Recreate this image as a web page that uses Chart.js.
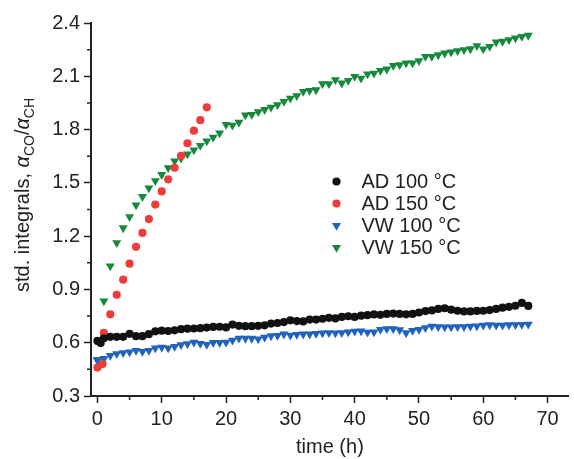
<!DOCTYPE html>
<html>
<head>
<meta charset="utf-8">
<script src="https://cdn.jsdelivr.net/npm/chart.js@4.4.1/dist/chart.umd.min.js"></script>
<style>
  html, body { margin: 0; padding: 0; background: #fff; }
  #wrap { width: 574px; height: 459px; position: relative; }
</style>
</head>
<body>
<div id="wrap"><canvas id="chart"></canvas></div>
<script>
const hoursVW = [0,1,2,3,4,5,6,7,8,9,10,11,12,13,14,15,16,17,18,19,20,21,22,23,24,25,26,27,28,29,30,31,32,33,
  34,35,36,37,38,39,40,41,42,43,44,45,46,47,48,49,50,51,52,53,54,55,56,57,58,59,60,61,62,63,64,65,66,67];
const hoursAD100 = [0,0.5,1,2,3,4,5,6,7,8,9,10,11,12,13,14,15,16,17,18,19,20,21,22,23,24,25,26,27,28,29,30,31,32,33,
  34,35,36,37,38,39,40,41,42,43,44,45,46,47,48,49,50,51,52,53,54,55,56,57,58,59,60,61,62,63,64,65,66,67];
const hoursAD150 = [0,0.8,1,2,3,4,5,6,7,8,9,10,11,12,13,14,15,16,17];

const ad100 = [0.61,0.598,0.625,0.633,0.633,0.633,0.65,0.637,0.637,0.648,0.664,0.668,0.666,0.67,0.676,0.679,
  0.68,0.682,0.685,0.689,0.69,0.686,0.702,0.695,0.693,0.693,0.695,0.698,0.708,0.711,0.716,0.726,0.722,0.72,
  0.73,0.73,0.735,0.74,0.737,0.745,0.749,0.745,0.752,0.755,0.759,0.757,0.762,0.764,0.762,0.76,0.762,0.77,
  0.778,0.782,0.79,0.794,0.786,0.78,0.776,0.776,0.779,0.78,0.784,0.79,0.797,0.802,0.808,0.824,0.807];
const ad150 = [0.46,0.48,0.655,0.76,0.87,0.955,1.045,1.14,1.218,1.296,1.378,1.452,1.52,1.585,1.652,1.723,
  1.794,1.853,1.925];
const vw100 = [0.50,0.51,0.528,0.537,0.543,0.547,0.556,0.55,0.556,0.57,0.574,0.57,0.578,0.588,0.593,0.602,
  0.595,0.59,0.6,0.6,0.602,0.614,0.625,0.624,0.624,0.62,0.63,0.638,0.64,0.648,0.642,0.646,0.648,0.648,0.652,
  0.654,0.656,0.654,0.656,0.66,0.664,0.666,0.658,0.66,0.674,0.678,0.678,0.672,0.655,0.668,0.674,0.684,0.692,
  0.69,0.688,0.688,0.689,0.69,0.692,0.694,0.698,0.7,0.698,0.698,0.7,0.701,0.702,0.704];
const vw150 = [0.505,0.834,1.031,1.162,1.246,1.309,1.375,1.422,1.471,1.512,1.546,1.585,1.623,1.638,1.662,
  1.685,1.71,1.735,1.756,1.78,1.828,1.824,1.84,1.882,1.884,1.9,1.912,1.925,1.939,1.958,1.976,1.99,2.014,
  2.02,2.023,2.057,2.057,2.08,2.061,2.076,2.098,2.089,2.113,2.117,2.132,2.14,2.16,2.164,2.174,2.174,2.187,
  2.211,2.211,2.22,2.23,2.236,2.243,2.249,2.254,2.271,2.253,2.267,2.292,2.296,2.305,2.315,2.324,2.33];

const seriesLabels = ['AD 100 °C', 'AD 150 °C', 'VW 100 °C', 'VW 150 °C'];
const xTicks = [0, 10, 20, 30, 40, 50, 60, 70];
const xMinorTicks = [5, 15, 25, 35, 45, 55, 65];
const yTicks = [0.3, 0.6, 0.9, 1.2, 1.5, 1.8, 2.1, 2.4];
const yMinorTicks = [0.45, 0.75, 1.05, 1.35, 1.65, 1.95, 2.25];

const FONT = "'Liberation Sans', Arial, sans-serif";
const INK = '#222';

function toPoints(xs, ys) {
    return ys.map((v, i) => ({ x: xs[i], y: v }));
}

// kleine Zwischenstriche an beiden Achsen
const minorTicks = {
    id: 'minorTicks',
    afterDraw(chart) {
        const { ctx, scales: { x, y } } = chart;
        ctx.save();
        ctx.strokeStyle = INK;
        ctx.lineWidth = 1.5;
        ctx.beginPath();
        xMinorTicks.forEach(v => {
            const px = x.getPixelForValue(v);
            ctx.moveTo(px, y.bottom);
            ctx.lineTo(px, y.bottom + 4);
        });
        yMinorTicks.forEach(v => {
            const py = y.getPixelForValue(v);
            ctx.moveTo(x.left, py);
            ctx.lineTo(x.left - 4, py);
        });
        ctx.stroke();
        ctx.restore();
    }
};

// y-Achsentitel mit tiefgestellten Indizes
const yTitle = {
    id: 'yTitle',
    afterDraw(chart) {
        const ctx = chart.ctx;
        const parts = [
            ['std. integrals, ', '20px ' + FONT, 0],
            ['α', 'italic 20px ' + FONT, 0],
            ['CO', '14px ' + FONT, 5],
            ['/', '20px ' + FONT, 0],
            ['α', 'italic 20px ' + FONT, 0],
            ['CH', '14px ' + FONT, 5]
        ];
        ctx.save();
        ctx.translate(28.5, 292);
        ctx.rotate(-Math.PI / 2);
        ctx.fillStyle = INK;
        ctx.textBaseline = 'alphabetic';
        let pos = 0;
        parts.forEach(([txt, font, dy]) => {
            ctx.font = font;
            ctx.fillText(txt, pos, dy);
            pos += ctx.measureText(txt).width;
        });
        ctx.restore();
    }
};

// Legende innerhalb der Zeichenfläche
const innerLegend = {
    id: 'innerLegend',
    afterDraw(chart) {
        const ctx = chart.ctx;
        ctx.save();
        ctx.font = '20px ' + FONT;
        ctx.textBaseline = 'middle';
        chart.data.datasets.forEach((ds, i) => {
            const yy = 181.5 + i * 22;
            ctx.fillStyle = ds.pointBackgroundColor;
            ctx.strokeStyle = ds.pointBackgroundColor;
            Chart.helpers.drawPoint(ctx, {
                pointStyle: ds.pointStyle,
                rotation: ds.pointRotation || 0,
                radius: ds.pointRadius,
                borderWidth: 0
            }, 336.5, yy);
            ctx.fillStyle = INK;
            ctx.fillText(seriesLabels[i], 361.5, yy + 1);
        });
        ctx.restore();
    }
};

Chart.defaults.font.family = FONT;
Chart.defaults.font.size = 20;
Chart.defaults.color = INK;

new Chart(document.getElementById('chart'), {
    type: 'scatter',
    data: {
        datasets: [
            {
                label: seriesLabels[0],
                data: toPoints(hoursAD100, ad100),
                pointStyle: 'circle', pointRadius: 4.1, pointBorderWidth: 0,
                pointBackgroundColor: '#111111'
            },
            {
                label: seriesLabels[1],
                data: toPoints(hoursAD150, ad150),
                pointStyle: 'circle', pointRadius: 4.1, pointBorderWidth: 0,
                pointBackgroundColor: '#ee3b3b'
            },
            {
                label: seriesLabels[2],
                data: toPoints(hoursVW, vw100),
                pointStyle: 'triangle', pointRotation: 180, pointRadius: 5.2, pointBorderWidth: 0,
                pointBackgroundColor: '#2163bd'
            },
            {
                label: seriesLabels[3],
                data: toPoints(hoursVW, vw150),
                pointStyle: 'triangle', pointRotation: 180, pointRadius: 5.2, pointBorderWidth: 0,
                pointBackgroundColor: '#16893d'
            }
        ]
    },
    options: {
        responsive: true,
        maintainAspectRatio: false,
        animation: false,
        layout: { padding: { top: 23, right: 0, left: 0, bottom: 0 } },
        plugins: {
            legend: { display: false },
            tooltip: { enabled: false }
        },
        scales: {
            x: {
                type: 'linear',
                min: -1,
                max: 73.3,
                afterBuildTicks: s => { s.ticks = xTicks.map(v => ({ value: v })); },
                afterFit: s => { s.height = 63; },
                ticks: { padding: 4, color: INK, font: { size: 20 } },
                grid: { drawOnChartArea: false, drawTicks: true, tickLength: 7, tickWidth: 1.5, tickColor: INK },
                border: { display: true, color: INK, width: 2 },
                title: { display: true, text: 'time (h)', padding: { top: 0, bottom: 0 }, font: { size: 20 }, color: INK }
            },
            y: {
                type: 'linear',
                min: 0.3,
                max: 2.4,
                afterBuildTicks: s => { s.ticks = yTicks.map(v => ({ value: v })); },
                afterFit: s => { s.width = 91; },
                ticks: { padding: 4, color: INK, font: { size: 20 }, callback: v => v.toFixed(1) },
                grid: { drawOnChartArea: false, drawTicks: true, tickLength: 7, tickWidth: 1.5, tickColor: INK },
                border: { display: true, color: INK, width: 2 }
            }
        }
    },
    plugins: [minorTicks, yTitle, innerLegend]
});
</script>
</body>
</html>
